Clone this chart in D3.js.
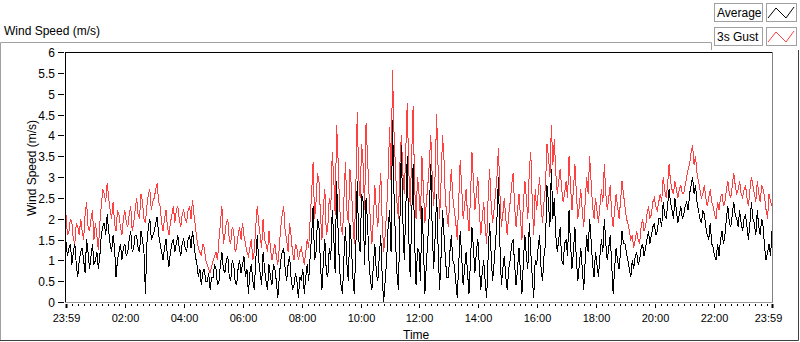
<!DOCTYPE html>
<html>
<head>
<meta charset="utf-8">
<script src="https://cdn.jsdelivr.net/npm/d3@7"></script>
<style>
  html, body { margin: 0; padding: 0; background: #ffffff; }
  svg { display: block; font-family: "Liberation Sans", Arial, sans-serif; }
</style>
</head>
<body>
<svg id="chart" width="800" height="342"></svg>
<script>
// ---------- data ----------
const chartTitle = "Wind Speed (m/s)";
const yAxisTitle = "Wind Speed (m/s)";
const xAxisTitle = "Time";
const seriesNames = ["Average", "3s Gust"];
const sampleMinutes = 3; // one reading every 3 minutes, 23:59 -> 23:59
const yTickValues = [0, 0.5, 1, 1.5, 2, 2.5, 3, 3.5, 4, 4.5, 5, 5.5, 6];
const xTickLabels = ["23:59", "02:00", "04:00", "06:00", "08:00", "10:00", "12:00",
                     "14:00", "16:00", "18:00", "20:00", "22:00", "23:59"];

// one row per hour (20 readings)
const gust = [
  2.1, 1.6, 1.7, 2.0, 1.9, 1.5, 1.4, 1.9, 1.8, 1.6, 2.0, 1.7, 1.5, 2.1, 2.4, 1.8, 1.7, 2.0, 2.2, 1.5,
  1.9, 1.6, 1.25, 1.9, 2.3, 2.7, 2.6, 2.4, 2.85, 2.5, 2.2, 2.0, 2.4, 1.9, 1.7, 2.2, 2.1, 1.8, 1.6, 2.0,
  2.2, 1.9, 1.8, 2.1, 2.3, 1.7, 1.9, 2.2, 2.5, 2.1, 2.0, 2.6, 2.4, 2.0, 1.9, 2.3, 2.6, 2.7, 2.2, 2.4,
  2.5, 2.7, 2.85, 2.4, 2.3, 1.9, 1.7, 2.0, 2.2, 1.8, 1.6, 1.9, 2.1, 2.3, 1.9, 2.2, 2.3, 2.0, 1.8, 2.1,
  2.2, 2.0, 1.9, 2.2, 2.3, 2.0, 2.45, 2.1, 1.8, 1.5, 1.3, 1.2, 1.1, 1.4, 1.3, 1.0, 0.9, 0.8, 0.7, 0.85,
  1.0, 1.1, 1.2, 1.0, 1.5, 1.9, 2.3, 1.4, 1.6, 1.9, 2.0, 1.5, 1.4, 1.8, 1.7, 1.2, 1.3, 1.6, 1.8, 1.5,
  1.9, 1.6, 1.4, 1.2, 1.1, 1.3, 1.5, 1.0, 1.2, 1.8, 2.3, 1.9, 1.6, 1.3, 2.0, 1.5, 1.4, 1.2, 1.7, 1.3,
  1.0, 1.2, 1.4, 1.1, 0.9, 1.3, 1.8, 2.1, 2.3, 1.7, 1.5, 1.2, 1.9, 1.6, 1.2, 1.0, 1.4, 1.3, 1.0, 1.2,
  1.3, 1.1, 0.9, 1.2, 1.5, 1.3, 2.0, 2.6, 3.35, 2.0, 2.4, 3.1, 2.9, 2.1, 1.5, 2.3, 2.7, 1.6, 1.8, 2.5,
  2.2, 3.6, 3.0, 2.1, 4.25, 3.4, 2.3, 1.8, 1.6, 2.5, 3.35, 2.2, 1.9, 3.2, 2.8, 2.0, 1.4, 2.6, 4.55, 3.0,
  2.5, 3.8, 3.3, 2.2, 4.3, 3.5, 2.6, 1.9, 1.4, 2.0, 2.8, 2.2, 1.8, 2.5, 3.1, 1.9, 1.2, 1.6, 2.2, 3.0,
  4.2, 2.9, 5.57, 4.1, 3.2, 2.4, 2.0, 3.3, 4.0, 3.1, 2.6, 3.6, 4.77, 3.2, 2.3, 3.5, 4.7, 2.8, 2.0, 3.0,
  2.6, 2.0, 3.5, 2.7, 1.9, 2.4, 2.8, 3.3, 4.0, 3.0, 2.3, 3.1, 4.5, 3.2, 2.0, 2.9, 4.0, 3.4, 2.4, 2.1,
  1.8, 2.6, 3.2, 2.5, 2.2, 1.9, 1.5, 2.4, 3.4, 2.8, 2.0, 2.3, 2.7, 2.1, 1.7, 2.5, 3.6, 2.9, 2.2, 2.6,
  3.0, 2.2, 1.6, 2.0, 2.4, 1.8, 1.4, 2.5, 3.2, 2.4, 1.9, 2.2, 2.6, 3.0, 3.7, 2.6, 1.8, 2.1, 2.5, 2.0,
  1.6, 2.1, 2.4, 2.8, 3.1, 2.3, 1.8, 2.2, 2.6, 2.0, 1.5, 2.4, 2.9, 2.5, 2.0, 3.2, 3.6, 2.4, 1.6, 2.7,
  2.2, 2.6, 3.0, 2.3, 1.9, 2.4, 2.8, 3.8, 3.5, 3.0, 4.25, 3.3, 3.9, 3.1, 2.6, 2.9, 3.2, 2.7, 2.4, 2.6,
  2.9, 2.5, 3.5, 2.8, 2.2, 2.7, 3.3, 2.6, 2.0, 2.3, 2.7, 2.2, 1.8, 2.4, 3.0, 2.6, 3.5, 2.9, 2.3, 2.0,
  2.5, 2.2, 1.9, 2.3, 2.7, 2.4, 3.3, 2.6, 2.2, 2.5, 2.8, 2.1, 1.8, 2.2, 2.6, 2.3, 2.0, 2.4, 2.9, 2.6,
  2.3, 2.0, 1.9, 1.7, 1.5, 1.6, 1.3, 1.5, 1.7, 1.5, 1.4, 1.8, 2.0, 1.7, 1.8, 2.1, 2.3, 2.0, 2.1, 2.4,
  2.5, 2.3, 2.2, 2.4, 2.6, 2.4, 3.0, 2.7, 2.5, 2.8, 3.3, 2.9, 2.7, 2.6, 2.9, 2.7, 2.5, 2.7, 2.8, 2.6,
  2.6, 2.8, 3.0, 3.2, 3.3, 3.6, 3.77, 3.3, 3.5, 3.1, 2.9, 2.7, 2.5, 2.6, 2.8, 2.5, 2.3, 2.5, 2.7, 2.4,
  2.3, 2.1, 2.0, 2.4, 2.2, 2.5, 2.6, 2.3, 2.4, 2.7, 2.9, 2.6, 2.5, 2.8, 3.1, 2.8, 2.6, 2.7, 2.9, 2.6,
  2.5, 2.7, 2.8, 2.5, 2.3, 2.7, 3.0, 2.8, 2.6, 2.4, 2.9, 2.6, 2.4, 2.8, 2.7, 2.5, 2.2, 2.0, 2.6, 2.4, 2.3
];

const average = [
  1.45, 1.1, 1.3, 1.4, 0.9, 1.2, 1.4, 0.9, 0.6, 1.0, 1.2, 1.3, 1.0, 0.7, 1.5, 1.2, 0.8, 1.1, 1.4, 0.9,
  1.0, 1.2, 0.8, 1.1, 1.6, 1.8, 1.9, 1.6, 2.1, 1.7, 1.4, 1.2, 1.6, 1.3, 0.6, 1.0, 1.2, 1.4, 1.0, 1.3,
  1.4, 1.1, 1.2, 1.5, 1.7, 1.2, 1.3, 1.6, 1.6, 1.3, 1.2, 1.7, 1.5, 1.2, 0.2, 1.4, 1.8, 2.0, 1.5, 1.6,
  1.7, 1.9, 2.05, 1.6, 1.4, 1.2, 1.0, 1.3, 1.5, 1.1, 0.85, 1.2, 1.4, 1.5, 1.2, 1.4, 1.6, 1.3, 1.1, 1.4,
  1.5, 1.3, 1.2, 1.5, 1.6, 1.3, 1.7, 1.4, 1.1, 0.9, 0.6, 0.8, 0.4, 0.7, 0.8, 0.5, 0.5, 0.7, 0.3, 0.6,
  0.6, 0.9, 0.8, 0.4, 0.5, 0.9, 1.2, 0.8, 0.7, 1.0, 1.1, 0.6, 0.5, 1.0, 0.9, 0.5, 0.4, 0.8, 1.0, 0.7,
  0.9, 1.1, 0.6, 0.8, 0.2, 0.7, 0.9, 0.5, 0.3, 1.0, 1.6, 1.0, 0.7, 0.4, 1.2, 0.8, 0.5, 0.3, 0.9, 0.6,
  0.4, 0.9, 0.8, 0.5, 0.1, 0.6, 1.0, 1.2, 1.3, 0.8, 0.5, 0.9, 1.1, 0.6, 0.3, 0.4, 0.7, 0.5, 0.1, 0.6,
  0.5, 0.8, 0.2, 0.6, 0.9, 0.5, 1.1, 1.6, 2.3, 1.0, 1.2, 2.0, 1.8, 0.9, 0.3, 1.0, 1.5, 0.7, 0.6, 1.3,
  1.0, 2.2, 1.6, 0.7, 2.9, 1.7, 0.8, 0.4, 0.2, 1.1, 1.8, 0.9, 0.5, 1.9, 1.4, 0.6, 0.2, 1.2, 2.9, 1.5,
  1.2, 2.6, 2.4, 0.9, 2.5, 1.9, 1.0, 0.5, 0.3, 0.9, 1.4, 0.7, 0.5, 1.1, 1.6, 0.6, 0.0, 0.5, 1.0, 1.8,
  2.2, 1.2, 4.37, 2.6, 1.5, 0.7, 0.3, 1.9, 3.77, 2.0, 1.0, 2.2, 3.5, 1.6, 0.6, 2.0, 3.3, 1.5, 0.4, 1.3,
  1.2, 0.5, 2.3, 1.4, 0.2, 0.9, 1.5, 2.1, 3.3, 1.7, 0.8, 1.6, 2.6, 1.3, 0.3, 1.1, 2.2, 1.6, 1.0, 0.6,
  0.6, 1.2, 1.6, 1.0, 0.9, 0.5, 0.1, 0.9, 1.7, 1.1, 0.4, 0.8, 1.2, 0.7, 0.2, 1.0, 1.8, 1.3, 0.7, 1.2,
  1.5, 0.9, 0.3, 0.7, 1.0, 0.5, 0.1, 1.1, 1.9, 1.2, 0.5, 0.9, 1.4, 2.0, 3.0, 1.4, 0.4, 0.8, 1.1, 0.6,
  0.3, 0.8, 1.0, 1.4, 1.5, 0.9, 0.4, 0.8, 1.3, 0.7, 0.2, 1.0, 1.6, 1.1, 0.8, 1.9, 1.2, 0.6, 0.1, 1.0,
  0.9, 1.3, 1.6, 0.8, 0.5, 1.1, 1.4, 2.8, 2.4, 1.8, 3.2, 2.0, 2.5, 1.6, 1.2, 1.5, 1.8, 1.0, 0.9, 1.4,
  1.5, 1.1, 2.2, 1.4, 0.8, 1.2, 1.8, 1.0, 0.5, 0.9, 1.3, 0.8, 0.3, 1.0, 1.6, 1.2, 2.0, 1.5, 0.9, 0.6,
  1.2, 0.9, 0.6, 1.1, 1.5, 1.2, 2.0, 1.4, 1.0, 1.3, 1.6, 0.9, 0.2, 0.8, 1.3, 1.0, 0.8, 1.2, 1.7, 1.4,
  1.4, 1.2, 1.0, 0.8, 0.6, 1.0, 0.8, 1.1, 1.2, 0.9, 1.0, 1.3, 1.4, 1.1, 1.3, 1.5, 1.7, 1.4, 1.6, 1.8,
  1.9, 1.6, 1.7, 2.0, 2.0, 1.8, 2.4, 2.1, 2.0, 2.3, 2.7, 2.4, 2.2, 2.0, 2.5, 2.2, 1.9, 2.1, 2.3, 2.0,
  2.1, 2.3, 2.4, 2.2, 2.6, 2.8, 3.0, 2.6, 2.8, 2.4, 2.2, 2.0, 1.9, 2.2, 2.1, 1.8, 1.6, 1.5, 1.9, 1.4,
  1.3, 1.1, 1.0, 1.4, 1.1, 1.5, 1.7, 1.4, 1.6, 2.0, 2.3, 1.9, 1.8, 2.1, 2.4, 2.1, 2.0, 1.8, 2.2, 1.9,
  1.7, 2.0, 2.1, 1.8, 1.5, 1.9, 2.4, 2.0, 1.9, 1.6, 2.2, 1.8, 1.6, 2.0, 1.8, 1.3, 1.0, 1.2, 1.4, 1.1, 1.7
];

// ---------- layout ----------
const startTime = new Date(2000, 0, 1, 23, 59);
const endTime = new Date(2000, 0, 2, 23, 59);
const plot = { left: 66, right: 772, top: 52, bottom: 302 };

const svg = d3.select("#chart");
const x = d3.scaleTime().domain([startTime, endTime]).range([plot.left, plot.right]);
const y = d3.scaleLinear().domain([0, 6]).range([plot.bottom, plot.top]);
const timeAt = i => d3.timeMinute.offset(startTime, i * sampleMinutes);

// outer frame
svg.append("path")
  .attr("d", "M0.5,340 V42.5 H711.5 V50")
  .attr("fill", "none").attr("stroke", "#a0a0a0");
svg.append("path")
  .attr("d", "M0,340.5 H798.5 V50")
  .attr("fill", "none").attr("stroke", "#404040");

// chart title
svg.append("text").attr("x", 4).attr("y", 35)
  .attr("font-size", 12).attr("fill", "#000").text(chartTitle);

// plot frame
svg.append("line").attr("x1", plot.left).attr("x2", plot.right + 0.5)
  .attr("y1", plot.top + 0.5).attr("y2", plot.top + 0.5).attr("stroke", "#000");
svg.append("line").attr("x1", plot.left - 0.5).attr("x2", plot.left - 0.5)
  .attr("y1", plot.top).attr("y2", plot.bottom + 1).attr("stroke", "#000");
svg.append("line").attr("x1", plot.right + 0.5).attr("x2", plot.right + 0.5)
  .attr("y1", plot.top).attr("y2", plot.bottom + 1).attr("stroke", "#808080");
svg.append("line").attr("x1", plot.left - 1).attr("x2", plot.right + 1)
  .attr("y1", plot.bottom + 0.5).attr("y2", plot.bottom + 0.5).attr("stroke", "#9a9a9a");

// clip
svg.append("clipPath").attr("id", "clip").append("rect")
  .attr("x", plot.left).attr("y", plot.top + 1)
  .attr("width", plot.right - plot.left).attr("height", plot.bottom - plot.top);

const line = d3.line()
  .x((d, i) => x(timeAt(i)))
  .y(d => y(d));

const g = svg.append("g").attr("clip-path", "url(#clip)");
g.append("path").datum(gust).attr("d", line)
  .attr("fill", "none").attr("stroke", "#ff4040").attr("stroke-width", 1)
  .attr("shape-rendering", "crispEdges");
g.append("path").datum(average).attr("d", line)
  .attr("fill", "none").attr("stroke", "#000").attr("stroke-width", 1)
  .attr("shape-rendering", "crispEdges");

// y axis ticks & labels
const yg = svg.append("g");
yTickValues.forEach(v => {
  const yy = Math.round(y(v)) + 0.5;
  yg.append("line").attr("x1", 58).attr("x2", 64).attr("y1", yy).attr("y2", yy)
    .attr("stroke", "#000");
  yg.append("text").attr("x", 55).attr("y", yy).attr("dy", "0.35em")
    .attr("text-anchor", "end").attr("font-size", 12).attr("fill", "#000")
    .text(d3.format("~g")(v));
});
svg.append("text")
  .attr("transform", `translate(36,${(plot.top + plot.bottom) / 2 - 9}) rotate(-90)`)
  .attr("text-anchor", "middle").attr("font-size", 12).attr("fill", "#000")
  .text(yAxisTitle);

// x axis ticks & labels
const majorTimes = [startTime]
  .concat(d3.range(2, 24, 2).map(h => new Date(2000, 0, 2, h, 0)))
  .concat([endTime]);
const minorTimes = d3.timeMinute.every(12).range(startTime, endTime);
const xg = svg.append("g");
minorTimes.forEach(t => {
  const xx = Math.round(x(t)) + 0.5;
  xg.append("line").attr("x1", xx).attr("x2", xx).attr("y1", 304).attr("y2", 306)
    .attr("stroke", "#000");
});
majorTimes.forEach((t, i) => {
  const xx = Math.round(x(t)) + 0.5;
  const isEnd = (i === 0 || i === majorTimes.length - 1);
  xg.append("line").attr("x1", xx).attr("x2", xx).attr("y1", 304).attr("y2", 308)
    .attr("stroke", "#000").attr("stroke-width", isEnd ? 2 : 1);
  xg.append("text").attr("x", xx + (i === majorTimes.length - 1 ? -4 : 0)).attr("y", 321.5)
    .attr("text-anchor", "middle").attr("font-size", 11).attr("fill", "#000")
    .text(xTickLabels[i]);
});
svg.append("text").attr("x", 403).attr("y", 339)
  .attr("font-size", 12).attr("fill", "#000").text(xAxisTitle);

// legend
const legendColors = ["#000", "#ff4040"];
seriesNames.forEach((name, i) => {
  const top = 3 + i * 24;
  const lg = svg.append("g");
  lg.append("rect").attr("x", 714.5).attr("y", top + 0.5).attr("width", 48).attr("height", 18)
    .attr("fill", "#fff").attr("stroke", "#a0a0a0");
  lg.append("text").attr("x", 717).attr("y", top + 14).attr("font-size", 12)
    .attr("fill", "#000").text(name);
  lg.append("rect").attr("x", 766.5).attr("y", top + 0.5).attr("width", 30).attr("height", 18)
    .attr("fill", "#fff").attr("stroke", "#a0a0a0");
  lg.append("path")
    .attr("d", `M768,${top + 15} L776,${top + 5} L786,${top + 15} L794,${top + 4}`)
    .attr("fill", "none").attr("stroke", legendColors[i]).attr("stroke-width", 1);
});
</script>
</body>
</html>
